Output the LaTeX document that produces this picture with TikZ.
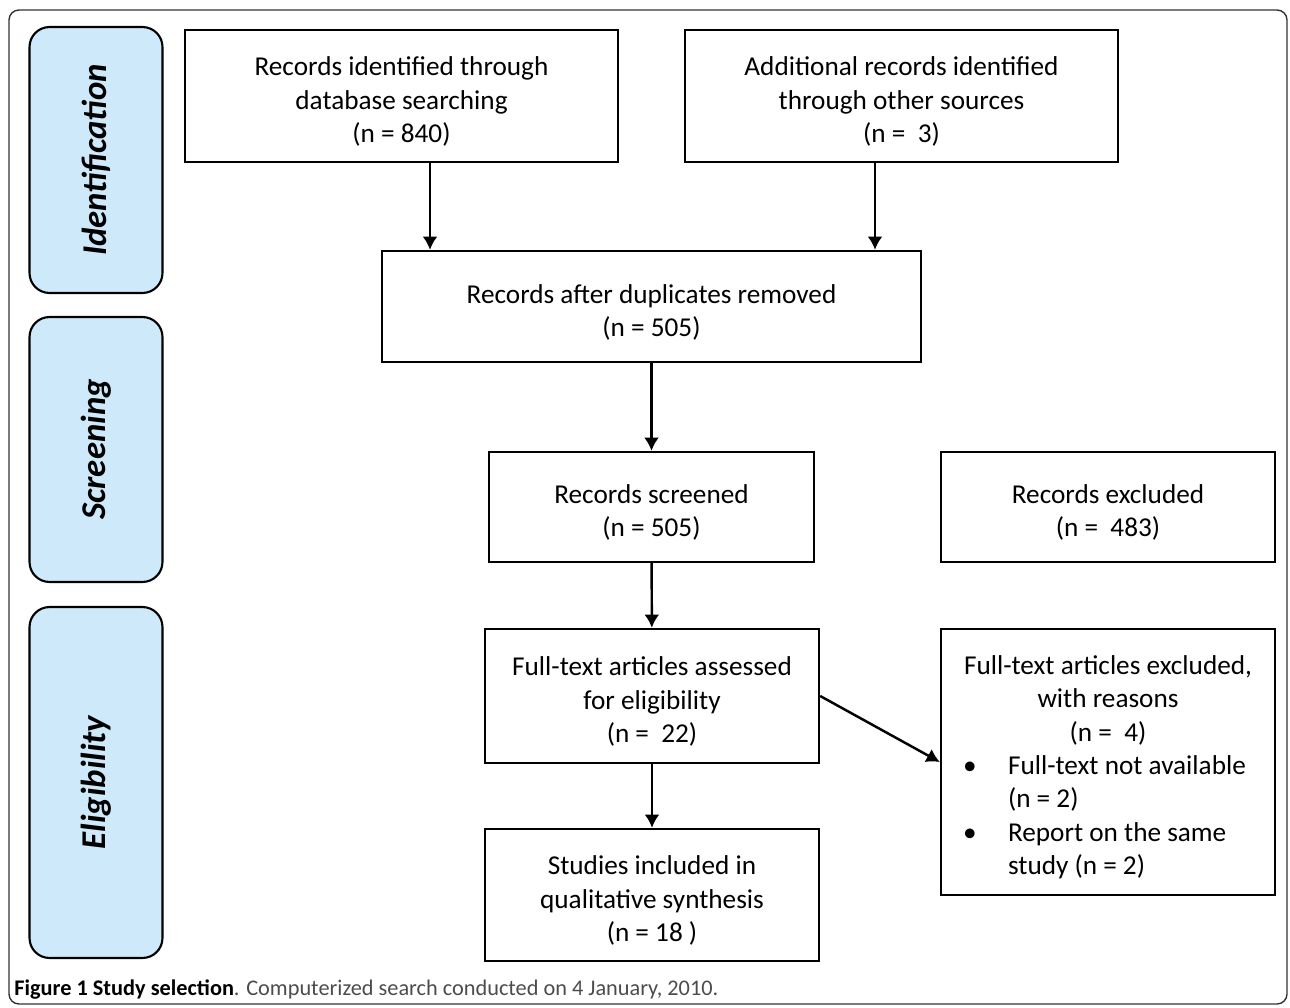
\documentclass[tikz,border=0pt]{standalone}
\usepackage{fontspec}
\setmainfont{Carlito}
\usetikzlibrary{arrows.meta}
\definecolor{sideblue}{RGB}{205,233,250}
\newcommand\boxfont{\fontsize{15.5}{19}\selectfont}
\newcommand\sidefont{\fontsize{19.8}{23}\selectfont\bfseries\itshape}
\newcommand\tp{\rule{0pt}{17.2pt}}
\tikzset{
  box/.style={draw,line width=1.4pt,align=center,inner sep=0pt,font=\boxfont},
  sidebox/.style={draw,line width=1.2pt,fill=sideblue,rounded corners=0.4cm,
    minimum width=2.66cm,inner sep=0pt,font=\sidefont},
  arr/.style={->,>={Latex[length=7.5pt,width=8.5pt]},line width=1.4pt}
}
\begin{document}
\begin{tikzpicture}[x=0.02cm,y=-0.02cm]
\useasboundingbox (0,0) rectangle (1290,1007);
\draw[line width=0.8pt,black!80,rounded corners=0.2cm] (9,10) rectangle (1287,1004);
% phases
\node[sidebox,minimum height=5.32cm] (S1) at (96,160) {\rotatebox{90}{Identification}};
\node[sidebox,minimum height=5.30cm] (S2) at (96,449.5) {\rotatebox{90}{Screening}};
\node[sidebox,minimum height=7.02cm] (S3) at (96,782.5) {\rotatebox{90}{Eligibility}};
% boxes
\node[box,minimum width=8.66cm,minimum height=2.64cm] (A) at (401.5,96) {\tp Records identified through\\ database searching\\ (n = 840)};
\node[box,minimum width=8.66cm,minimum height=2.64cm] (B) at (901.5,96) {\tp Additional records identified\\ through other sources\\ (n =\ \ 3)};
\node[box,minimum width=10.78cm,minimum height=2.22cm] (C) at (651.5,306.5) {\tp Records after duplicates removed\\ (n = 505)};
\node[box,minimum width=6.5cm,minimum height=2.2cm] (D) at (651.5,507) {\tp Records screened\\ (n = 505)};
\node[box,minimum width=6.68cm,minimum height=2.2cm] (E) at (1108,507) {\tp Records excluded\\ (n =\ \ 483)};
\node[box,minimum width=6.68cm,minimum height=2.68cm] (F) at (652,696) {\tp Full-text articles assessed\\ for eligibility\\ (n =\ \ 22)};
\node[box,minimum width=6.68cm,minimum height=5.32cm] (G) at (1108,762) {%
\begin{tabular}{@{}p{0.9cm}@{}p{4.9cm}@{}}
\multicolumn{2}{@{}c@{}}{\rule{0pt}{20pt}Full-text articles excluded,}\\
\multicolumn{2}{@{}c@{}}{with reasons}\\
\multicolumn{2}{@{}c@{}}{(n =\ \ 4)}\\
\textbullet & Full-text not available\\
 & (n = 2)\\
\textbullet & Report on the same\\
 & study (n = 2)
\end{tabular}};
\node[box,minimum width=6.68cm,minimum height=2.64cm] (H) at (652,895) {\tp Studies included in\\ qualitative synthesis\\ (n = 18 )};
% arrows
\draw[arr] ([xshift=0.57cm]A.south) -- ([xshift=0.57cm]A.south |- C.north);
\draw[arr] ([xshift=-0.53cm]B.south) -- ([xshift=-0.53cm]B.south |- C.north);
\draw[arr] (C) -- (D);
\draw[arr] (D) -- (F);
\draw[arr] (F) -- (H);
\draw[arr] (F.east) -- (G.west);
% caption
\node[anchor=base west,inner sep=0pt,font=\fontsize{12.7}{15}\selectfont] (cap) at (14,995)
  {\textbf{Figure 1 Study selection}\textcolor{black!70}{. Computerized search conducted on 4 January, 2010.}};
\end{tikzpicture}
\end{document}
